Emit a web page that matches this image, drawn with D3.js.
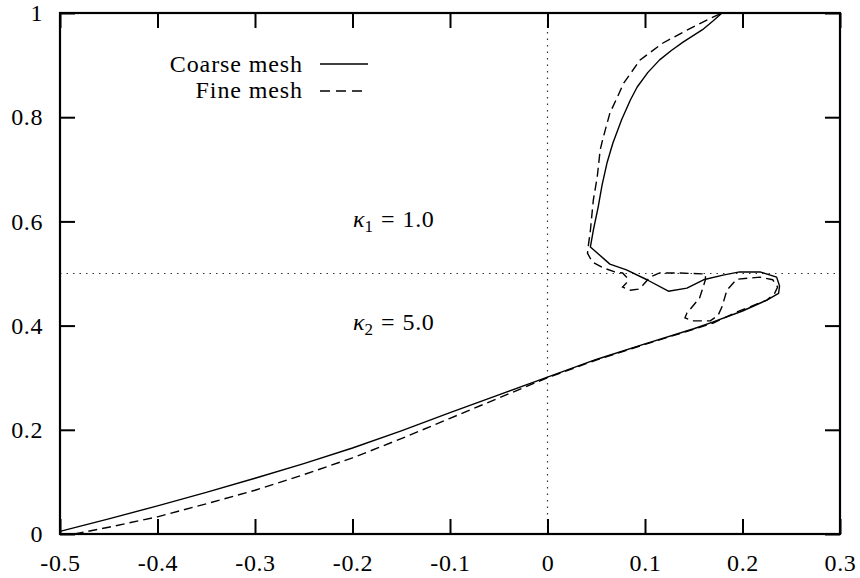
<!DOCTYPE html>
<html>
<head>
<meta charset="utf-8">
<script src="https://cdn.jsdelivr.net/npm/d3@7"></script>
<style>
  html, body { margin: 0; padding: 0; background: #fff; }
  svg { display: block; }
</style>
</head>
<body>
<svg id="chart" width="860" height="578"></svg>
<script>
// ---- data ----
const xTicks = [-0.5, -0.4, -0.3, -0.2, -0.1, 0, 0.1, 0.2, 0.3];
const xTickLabels = ["-0.5", "-0.4", "-0.3", "-0.2", "-0.1", "0", "0.1", "0.2", "0.3"];
const yTicks = [0, 0.2, 0.4, 0.6, 0.8, 1];
const yTickLabels = ["0", "0.2", "0.4", "0.6", "0.8", "1"];

const seriesNames = ["Coarse mesh", "Fine mesh"];

const coarseX = [-0.5, -0.45, -0.4, -0.35, -0.3, -0.25, -0.2, -0.15, -0.1, -0.05, 0, 0.05, 0.1, 0.15, 0.17, 0.2, 0.225, 0.237, 0.238, 0.235, 0.218, 0.197, 0.18, 0.16, 0.143, 0.124, 0.102, 0.081, 0.064, 0.044, 0.047, 0.052, 0.056, 0.061, 0.067, 0.076, 0.085, 0.092, 0.103, 0.115, 0.127, 0.139, 0.159, 0.17, 0.179];
const coarseY = [0.005, 0.029, 0.054, 0.080, 0.107, 0.135, 0.165, 0.198, 0.233, 0.267, 0.301, 0.335, 0.365, 0.394, 0.407, 0.428, 0.449, 0.462, 0.476, 0.493, 0.503, 0.503, 0.497, 0.488, 0.472, 0.466, 0.488, 0.507, 0.518, 0.551, 0.583, 0.628, 0.670, 0.712, 0.750, 0.795, 0.833, 0.858, 0.886, 0.910, 0.928, 0.944, 0.968, 0.985, 1.0];

const fineX = [-0.485, -0.45, -0.4, -0.35, -0.3, -0.25, -0.2, -0.15, -0.1, -0.05, 0, 0.05, 0.1, 0.15, 0.17, 0.194, 0.225, 0.233, 0.236, 0.231, 0.218, 0.194, 0.184, 0.179, 0.175, 0.167, 0.149, 0.141, 0.143, 0.156, 0.162, 0.162, 0.136, 0.115, 0.105, 0.098, 0.093, 0.085, 0.077, 0.081, 0.082, 0.077, 0.069, 0.057, 0.046, 0.041, 0.042, 0.044, 0.047, 0.051, 0.054, 0.057, 0.064, 0.072, 0.078, 0.095, 0.118, 0.143, 0.164, 0.179];
const fineY = [0.0, 0.013, 0.033, 0.058, 0.084, 0.114, 0.146, 0.183, 0.222, 0.261, 0.300, 0.334, 0.364, 0.393, 0.405, 0.426, 0.449, 0.462, 0.474, 0.488, 0.493, 0.489, 0.468, 0.436, 0.420, 0.409, 0.409, 0.415, 0.424, 0.453, 0.488, 0.499, 0.501, 0.501, 0.493, 0.478, 0.470, 0.468, 0.474, 0.482, 0.491, 0.501, 0.503, 0.511, 0.522, 0.539, 0.555, 0.583, 0.641, 0.685, 0.737, 0.760, 0.808, 0.840, 0.865, 0.910, 0.942, 0.967, 0.987, 1.0];

// ---- layout ----
const FONT = '"Liberation Serif", "Times New Roman", serif';
const svg = d3.select("#chart");
const mLeft = 60, mRight = 840, mTop = 13, mBottom = 534;
const x = d3.scaleLinear().domain([-0.5, 0.3]).range([mLeft, mRight]);
const y = d3.scaleLinear().domain([0, 1]).range([mBottom, mTop]);

// reference lines
svg.append("line")
  .attr("x1", x(0)).attr("x2", x(0)).attr("y1", y(0)).attr("y2", y(1))
  .attr("stroke", "#333").attr("stroke-width", 1.2).attr("stroke-dasharray", "1.5,5");
svg.append("line")
  .attr("x1", x(-0.5)).attr("x2", x(0.3)).attr("y1", y(0.5)).attr("y2", y(0.5))
  .attr("stroke", "#333").attr("stroke-width", 1.2).attr("stroke-dasharray", "1.5,5");

// axes with inward ticks on all four sides
const tickLen = 15;
const fmtX = (d, i) => xTickLabels[i];
const fmtY = (d, i) => yTickLabels[i];
const axB = svg.append("g").attr("transform", `translate(0,${mBottom})`)
  .call(d3.axisBottom(x).tickValues(xTicks).tickFormat(fmtX).tickSizeInner(-tickLen).tickSizeOuter(0).tickPadding(20));
const axT = svg.append("g").attr("transform", `translate(0,${mTop})`)
  .call(d3.axisTop(x).tickValues(xTicks).tickFormat("").tickSizeInner(-tickLen).tickSizeOuter(0));
const axL = svg.append("g").attr("transform", `translate(${mLeft},0)`)
  .call(d3.axisLeft(y).tickValues(yTicks).tickFormat(fmtY).tickSizeInner(-tickLen).tickSizeOuter(0).tickPadding(17));
const axR = svg.append("g").attr("transform", `translate(${mRight},0)`)
  .call(d3.axisRight(y).tickValues(yTicks).tickFormat("").tickSizeInner(-tickLen).tickSizeOuter(0));

[axB, axT, axL, axR].forEach(g => {
  g.select(".domain").remove();
  g.selectAll(".tick line").attr("stroke", "#000").attr("stroke-width", 2);
  g.selectAll("text")
    .style("font-family", FONT).style("font-size", "24px").style("letter-spacing", "0.6px")
    .attr("fill", "#000");
});
axB.selectAll("text").attr("dy", "0.71em");

// frame
svg.append("rect")
  .attr("x", mLeft).attr("y", mTop).attr("width", mRight - mLeft).attr("height", mBottom - mTop)
  .attr("fill", "none").attr("stroke", "#000").attr("stroke-width", 2.2);

// curves
const line = d3.line().x(d => x(d[0])).y(d => y(d[1]));
const coarse = coarseX.map((v, i) => [v, coarseY[i]]);
const fine = fineX.map((v, i) => [v, fineY[i]]);
svg.append("path").datum(coarse).attr("d", line)
  .attr("fill", "none").attr("stroke", "#000").attr("stroke-width", 1.4).attr("stroke-linejoin", "round");
svg.append("path").datum(fine).attr("d", line)
  .attr("fill", "none").attr("stroke", "#000").attr("stroke-width", 1.4).attr("stroke-dasharray", "9,5");

// legend
const legend = svg.append("g");
legend.append("text").attr("x", 303).attr("y", 72).attr("text-anchor", "end")
  .style("font-family", FONT).style("font-size", "24px").style("letter-spacing", "0.9px")
  .text(seriesNames[0]);
legend.append("line").attr("x1", 320).attr("x2", 368).attr("y1", 64).attr("y2", 64)
  .attr("stroke", "#000").attr("stroke-width", 1.4);
legend.append("text").attr("x", 303).attr("y", 98).attr("text-anchor", "end")
  .style("font-family", FONT).style("font-size", "24px").style("letter-spacing", "0.9px")
  .text(seriesNames[1]);
legend.append("line").attr("x1", 320).attr("x2", 364).attr("y1", 91).attr("y2", 91)
  .attr("stroke", "#000").attr("stroke-width", 1.4).attr("stroke-dasharray", "10,6");

// kappa annotations
function kappa(xp, yp, sub, val) {
  const t = svg.append("text").attr("x", xp).attr("y", yp)
    .style("font-family", FONT).style("font-size", "24px");
  t.append("tspan").style("font-style", "italic").text("κ");
  t.append("tspan").style("font-size", "17px").attr("dy", 5).text(sub);
  t.append("tspan").attr("dy", -5).attr("dx", 8).text("=");
  t.append("tspan").attr("dx", 8).style("letter-spacing", "0.6px").text(val);
}
kappa(353, 227, "1", "1.0");
kappa(353, 330, "2", "5.0");
</script>
</body>
</html>
